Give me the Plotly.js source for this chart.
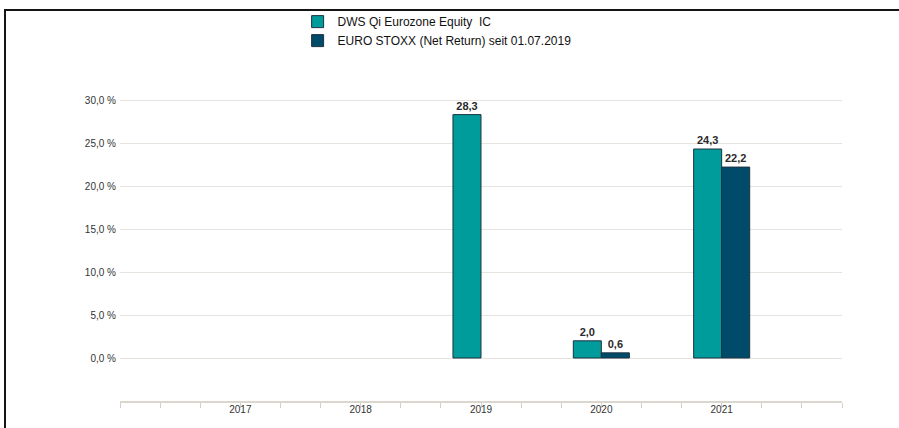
<!DOCTYPE html>
<html>
<head>
<meta charset="utf-8">
<script src="https://cdn.plot.ly/plotly-3.0.1.min.js"></script>
<style>
  html, body { margin: 0; padding: 0; background: #fff; }
  #wrap { position: relative; width: 899px; height: 428px; overflow: hidden; }
  #chart { width: 899px; height: 428px; }
  #frame { position: absolute; left: 4px; top: 9px; width: 900px; height: 430px;
           border-top: 2px solid #151515; border-left: 2px solid #151515; pointer-events: none; }
</style>
</head>
<body>
<div id="wrap">
  <div id="chart"></div>
  <div id="frame"></div>
</div>
<script>
const years = [2017, 2018, 2019, 2020, 2021];
const yearLabels = ['2017', '2018', '2019', '2020', '2021'];
const seriesNames = ['DWS Qi Eurozone Equity  IC', 'EURO STOXX (Net Return) seit 01.07.2019'];
const dwsValues = [null, null, 28.3, 2.0, 24.3];
const euroValues = [null, null, null, 0.6, 22.2];
const yTickVals = [0, 5, 10, 15, 20, 25, 30, 35];
const yTickText = ['0,0 %', '5,0 %', '10,0 %', '15,0 %', '20,0 %', '25,0 %', '30,0 %', ''];

const colors = ['#009c9c', '#004a6a'];
const outline = '#1d3440';

function barTrace(name, values, color) {
  return {
    type: 'bar',
    name: name,
    x: years,
    y: values,
    marker: { color: color, line: { color: outline, width: 1 } },
    texttemplate: '%{y:.1f}',
    textposition: 'outside',
    textfont: { family: 'Liberation Sans, Arial, sans-serif', size: 11, color: '#2a2a2a', weight: 'bold' },
    cliponaxis: false,
    hoverinfo: 'skip'
  };
}

const data = [
  barTrace(seriesNames[0], dwsValues, colors[0]),
  barTrace(seriesNames[1], euroValues, colors[1])
];

const layout = {
  width: 899,
  height: 428,
  margin: { l: 120, r: 57, t: 57, b: 27, autoexpand: false },
  paper_bgcolor: '#ffffff',
  plot_bgcolor: '#ffffff',
  separators: ',.',
  barmode: 'group',
  bargap: 0.534,
  bargroupgap: 0,
  showlegend: true,
  font: { family: 'Liberation Sans, Arial, sans-serif', size: 10, color: '#333333' },
  legend: {
    orientation: 'v',
    x: 0.246, xanchor: 'left',
    y: 1.145, yanchor: 'top',
    bgcolor: 'rgba(0,0,0,0)',
    font: { family: 'Liberation Sans, Arial, sans-serif', size: 12, color: '#111111' },
    tracegroupgap: 0,
    traceorder: 'normal'
  },
  xaxis: {
    type: 'linear',
    range: [2016, 2022],
    tickmode: 'array',
    tickvals: years,
    ticktext: yearLabels,
    ticks: '',
    showgrid: false,
    zeroline: false,
    showline: true,
    linecolor: '#dbd7cf',
    linewidth: 2,
    ticklabelstandoff: -2,
    tickfont: { family: 'Liberation Sans, Arial, sans-serif', size: 10, color: '#333333' },
    minor: { tick0: 2016, dtick: 1 / 3, ticks: 'outside', ticklen: 5, tickwidth: 1, tickcolor: '#d3cfc7', showgrid: false },
    fixedrange: true
  },
  yaxis: {
    range: [-5, 35],
    tickmode: 'array',
    tickvals: yTickVals,
    ticktext: yTickText,
    ticks: '',
    showgrid: true,
    gridcolor: '#e6e3de',
    gridwidth: 1,
    zeroline: false,
    showline: false,
    ticklabelstandoff: 3,
    tickfont: { family: 'Liberation Sans, Arial, sans-serif', size: 10, color: '#333333' },
    fixedrange: true
  }
};

Plotly.newPlot('chart', data, layout, { displayModeBar: false, staticPlot: true });
</script>
</body>
</html>
